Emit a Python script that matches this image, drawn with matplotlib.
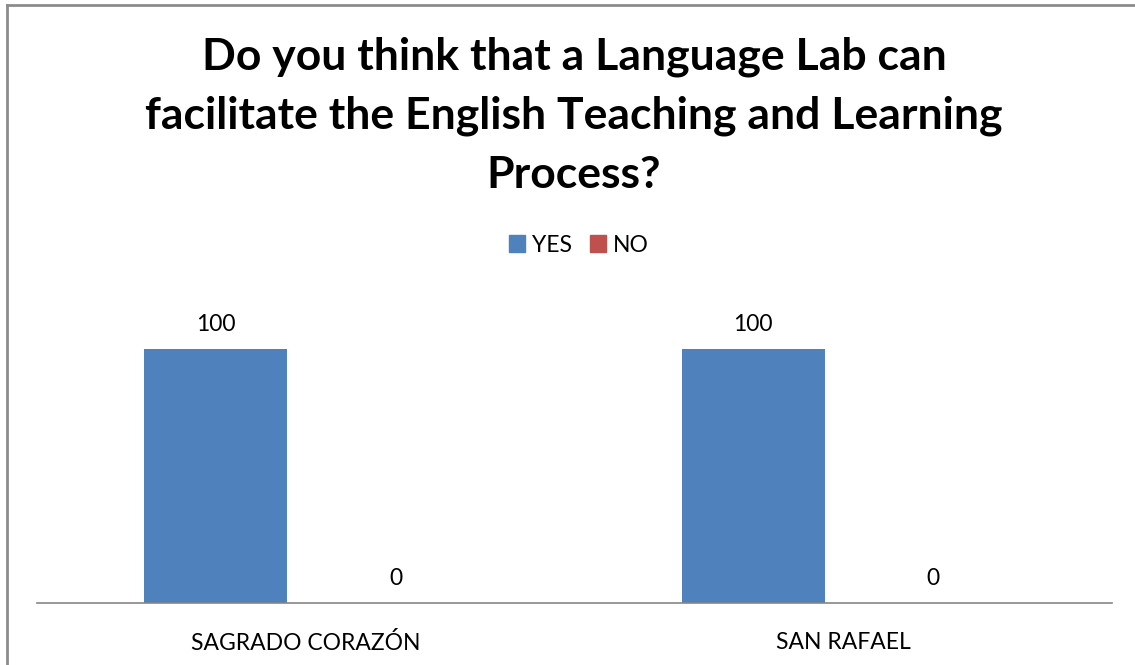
import matplotlib
matplotlib.use("Agg")
import matplotlib.pyplot as plt
import numpy as np
from matplotlib.lines import Line2D
from matplotlib.patches import Patch

categories = ["SAGRADO CORAZÓN", "SAN RAFAEL"]
series_names = ["YES", "NO"]
yes_values = [100, 100]
no_values = [0, 0]
title = "Do you think that a Language Lab can\nfacilitate the English Teaching and Learning\nProcess?"

W, H = 1135, 665
fig = plt.figure(figsize=(W / 100, H / 100), dpi=100)
plt.rcParams['font.family'] = ['Lato', 'DejaVu Sans']

# axes placement in pixels
left_px, right_px, bottom_px, top_px = 37, 1112, 603, 298
ax = fig.add_axes([left_px / W, (H - bottom_px) / H, (right_px - left_px) / W, (bottom_px - top_px) / H])

x = np.arange(len(categories))
width = 143 / 537.5
offset = 90 / 537.5
colors = ["#4F81BD", "#C0504D"]

b1 = ax.bar(x - offset, yes_values, width, color=colors[0], label=series_names[0])
b2 = ax.bar(x + offset, no_values, width, color=colors[1], label=series_names[1])

for bars in (b1, b2):
    for rect in bars:
        h = rect.get_height()
        ax.annotate(f"{h:g}", (rect.get_x() + rect.get_width() / 2, h),
                    xytext=(0, 14), textcoords="offset pixels",
                    ha="center", va="bottom", fontsize=16.5, color="black")

ax.set_xlim(-0.5, len(categories) - 0.5)
ax.set_ylim(0, 120)
ax.set_yticks([])
ax.set_xticks(x)
ax.set_xticklabels(categories, fontsize=16.5)
ax.tick_params(axis="x", length=0, pad=21)
for s in ("top", "right", "left"):
    ax.spines[s].set_visible(False)
ax.spines["bottom"].set_color("#868686")
ax.spines["bottom"].set_linewidth(1.2)

# legend
handles = [Patch(color=colors[0]), Patch(color=colors[1])]
fig.legend(handles, series_names, loc="center", bbox_to_anchor=(579 / W, (H - 245) / H),
           ncol=2, frameon=False, fontsize=16.5, handlelength=0.7, handleheight=0.7,
           handletextpad=0.3, columnspacing=0.8)

fig.text(574 / W, (H - 116) / H, title, ha="center", va="center", fontsize=32,
         fontweight="bold", linespacing=1.57, multialignment="center")

# chart border (left and top visible)
fig.add_artist(Line2D([7 / W, 7 / W], [0, (H - 5) / H], transform=fig.transFigure,
                      color="#8C8C8C", linewidth=2))
fig.add_artist(Line2D([7 / W, 1], [(H - 5) / H, (H - 5) / H], transform=fig.transFigure,
                      color="#8C8C8C", linewidth=2))

fig.savefig("out.png", dpi=100)
